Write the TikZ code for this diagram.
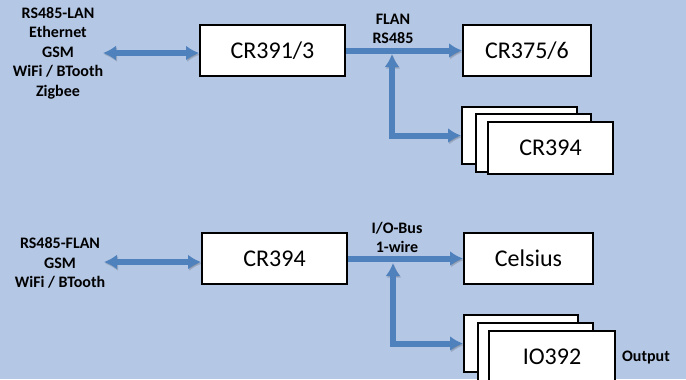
\documentclass[tikz,border=0pt]{standalone}
\usepackage{fontspec}
\setmainfont{Carlito}
\usepackage{tikz}
\usetikzlibrary{arrows.meta}
\definecolor{bgblue}{RGB}{180,199,228}
\definecolor{busblue}{RGB}{79,129,189}
\newcommand{\modfont}{\fontsize{18}{21}\selectfont}
\newcommand{\lblfont}{\fontsize{12}{14.6}\selectfont\bfseries}

\begin{document}
\begin{tikzpicture}[x=0.75pt,y=-0.75pt,
		>={Latex[length=9.75pt,width=11.25pt]},
		module/.style={rectangle,draw,line width=1.5pt,fill=white,inner sep=0pt,minimum height=38.25pt,font=\modfont},
		lbl/.style={align=center,font=\lblfont,inner sep=0pt},
		bus/.style={line width=4.5pt,draw=busblue,preaction={draw=black,opacity=0.15,transform canvas={shift={(0.8pt,-1.2pt)}}}}]
		\clip (0,0) rectangle (686,379);
		\fill[bgblue] (0,0) rectangle (686,379);
		% FLAN side
		\path (58,53) node(lan_lbl) [lbl] {RS485-LAN\\Ethernet\\GSM\\WiFi / BTooth\\Zigbee};
		\path (103,53) coordinate (lan_end);
		\path (272.5,50.5) node(cr391) [module,minimum width=108.75pt] {CR391/3};
		\path (527,50.5) node(cr375) [module,minimum width=96pt] {CR375/6};
		\path (519.5,135.5) node(cr394_0) [module,minimum width=86.25pt,minimum height=42.75pt] {};
		\path (533.5,143) node(cr394_1) [module,minimum width=86.25pt,minimum height=43.5pt] {};
		\path (550.5,148) node(cr394_2) [module,minimum width=93.75pt,minimum height=39pt] {CR394};
		\path (393,29) node(flan_lbl) [lbl] {FLAN\\RS485};
		\path (392,54) coordinate (flan_tap);

		\draw[bus,<->] (lan_end) -- (lan_end -| cr391.west);
		\draw[bus,->] (cr391) -- (cr375);
		\draw[bus,<->] (flan_tap) |- (cr394_0.west);

		% I/O side
		\path (60,263) node(io_lbl) [lbl] {RS485-FLAN\\GSM\\WiFi / BTooth};
		\path (104,262) coordinate (io_end);
		\path (274.5,258.5) node(cr394) [module,minimum width=108.75pt] {CR394};
		\path (528.5,258.5) node(celsius) [module,minimum width=96.75pt] {Celsius};
		\path (521,343.5) node(io392_0) [module,minimum width=85.5pt,minimum height=42.75pt] {};
		\path (535.5,352) node(io392_1) [module,minimum width=86.25pt,minimum height=43.5pt] {};
		\path (552,357) node(io392_2) [module,minimum width=94.5pt,minimum height=39pt] {IO392};
		\path (646,358) node(out_lbl) [lbl] {Output};
		\path (397,237.5) node(bus_lbl) [lbl] {I/O-Bus\\1-wire};
		\path (393,263) coordinate (io_tap);

		\draw[bus,<->] (io_end) -- (io_end -| cr394.west);
		\draw[bus,->] (cr394) -- (celsius);
		\draw[bus,<->] (io_tap) |- (io392_0.west);
	\end{tikzpicture}
\end{document}
